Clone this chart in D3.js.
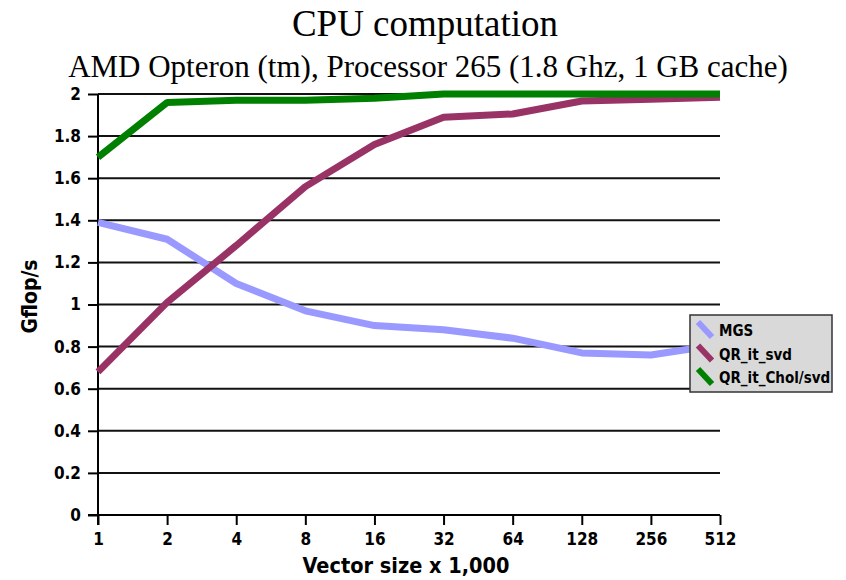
<!DOCTYPE html>
<html>
<head>
<meta charset="utf-8">
<script src="https://cdn.jsdelivr.net/npm/d3@7"></script>
<style>
  html, body { margin: 0; padding: 0; background: #fff; }
  svg { display: block; }
  .title { font-family: "Liberation Serif", "Times New Roman", serif; fill: #000; }
  .axis text, .lab, .legend text { font-family: "DejaVu Sans Condensed", "DejaVu Sans", sans-serif; font-weight: bold; fill: #000; }
</style>
</head>
<body>
<script>
// Vector sizes (x 1,000) and measured throughput in Gflop/s
const sizes = [1, 2, 4, 8, 16, 32, 64, 128, 256, 512];
const mgs = [1.39, 1.31, 1.10, 0.97, 0.90, 0.88, 0.84, 0.77, 0.76, 0.81];
const qrItSvd = [0.68, 1.01, 1.28, 1.56, 1.76, 1.89, 1.905, 1.967, 1.975, 1.985];
const qrItCholSvd = [1.70, 1.96, 1.97, 1.97, 1.98, 2.0, 2.0, 2.0, 2.0, 2.0];
const seriesNames = ["MGS", "QR_it_svd", "QR_it_Chol/svd"];
const seriesColors = ["#9999ff", "#993366", "#008000"];
const yTicks = [0, 0.2, 0.4, 0.6, 0.8, 1, 1.2, 1.4, 1.6, 1.8, 2];
const yTickLabels = ["0", "0.2", "0.4", "0.6", "0.8", "1", "1.2", "1.4", "1.6", "1.8", "2"];
const xTickLabels = ["1", "2", "4", "8", "16", "32", "64", "128", "256", "512"];

const W = 846, H = 580;
const svg = d3.select("body").append("svg").attr("width", W).attr("height", H);

const x = d3.scaleLog().base(2).domain([1, 512]).range([98, 720]);
const y = d3.scaleLinear().domain([0, 2]).range([515, 94]);

// Titles
svg.append("text").attr("class", "title")
  .attr("x", 425).attr("y", 36).attr("text-anchor", "middle")
  .style("font-size", "37px").text("CPU computation");
svg.append("text").attr("class", "title")
  .attr("x", 428).attr("y", 77).attr("text-anchor", "middle")
  .style("font-size", "31px").text("AMD Opteron (tm), Processor 265 (1.8 Ghz, 1 GB cache)");

// Horizontal gridlines
svg.append("g").selectAll("line").data(yTicks.slice(1)).join("line")
  .attr("x1", x(1)).attr("x2", x(512))
  .attr("y1", d => y(d)).attr("y2", d => y(d))
  .attr("stroke", "#111").attr("stroke-width", 2);

// Y axis
const yAxis = svg.append("g").attr("class", "axis")
  .attr("transform", `translate(${x(1)},0)`)
  .call(d3.axisLeft(y).tickValues(yTicks).tickFormat((d, i) => yTickLabels[i]).tickSize(10).tickPadding(7));
yAxis.select(".domain").attr("d", `M0,${y(2)}V${y(0) + 10}`).attr("stroke", "#000").attr("stroke-width", 2);
yAxis.selectAll(".tick line").attr("stroke", "#000").attr("stroke-width", 2);
yAxis.selectAll("text").style("font-size", "17px");

// X axis
const xAxis = svg.append("g").attr("class", "axis")
  .attr("transform", `translate(0,${y(0)})`)
  .call(d3.axisBottom(x).tickValues(sizes).tickFormat((d, i) => xTickLabels[i]).tickSize(10).tickPadding(8));
xAxis.select(".domain").attr("d", `M${x(1) - 10},0H${x(512)}`).attr("stroke", "#000").attr("stroke-width", 2);
xAxis.selectAll(".tick line").attr("stroke", "#000").attr("stroke-width", 2);
xAxis.selectAll("text").style("font-size", "17px");

// Axis titles
svg.append("text").attr("class", "lab")
  .attr("transform", `translate(37,${y(1) - 8}) rotate(-90)`)
  .attr("text-anchor", "middle").style("font-size", "21px").text("Gflop/s");
svg.append("text").attr("class", "lab")
  .attr("x", 406).attr("y", 573).attr("text-anchor", "middle")
  .style("font-size", "21.5px").text("Vector size x 1,000");

// Series lines
const allSeries = [mgs, qrItSvd, qrItCholSvd];
const line = d3.line().x((d, i) => x(sizes[i])).y(d => y(d));
svg.append("g").selectAll("path").data(allSeries).join("path")
  .attr("d", line)
  .attr("fill", "none")
  .attr("stroke", (d, i) => seriesColors[i])
  .attr("stroke-width", 7)
  .attr("stroke-linejoin", "bevel");

// Legend
const lg = svg.append("g").attr("class", "legend").attr("transform", "translate(690,315)");
lg.append("rect").attr("width", 142).attr("height", 77)
  .attr("fill", "#d9d9d9").attr("stroke", "#333").attr("stroke-width", 1.5);
const items = lg.selectAll("g.item").data(seriesNames).join("g")
  .attr("class", "item")
  .attr("transform", (d, i) => `translate(0,${21 + i * 23.5})`);
items.append("line")
  .attr("x1", 8).attr("y1", -14).attr("x2", 22).attr("y2", 1)
  .attr("stroke", (d, i) => seriesColors[i]).attr("stroke-width", 6);
items.append("text").attr("x", 29).attr("y", 0)
  .style("font-size", "15px").text(d => d);
</script>
</body>
</html>
